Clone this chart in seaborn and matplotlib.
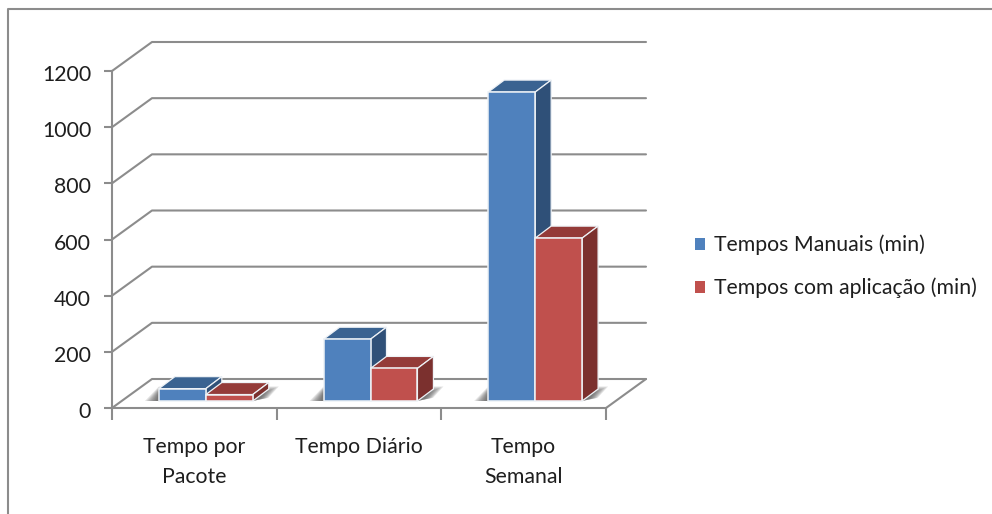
import matplotlib
matplotlib.use("Agg")
import matplotlib.pyplot as plt
import pandas as pd
import seaborn as sns
from matplotlib.lines import Line2D
from matplotlib.patches import Polygon
from matplotlib.transforms import ScaledTranslation

# Chart data
categories = ["Tempo por\nPacote", "Tempo Diário", "Tempo\nSemanal"]
manual_times = [44, 220, 1100]
app_times = [23, 116, 580]
series_names = ["Tempos Manuais (min)", "Tempos com aplicação (min)"]
y_ticks = [0, 200, 400, 600, 800, 1000, 1200]

# Colours
front_colors = ["#4F81BD", "#C0504D"]
top_colors = ["#3A6391", "#943B39"]
side_colors = ["#2F5078", "#7B302E"]
line_color = "#8C8C8C"
text_color = "#1E1E1E"

# Layout in pixels
W, H = 992, 514
LEFT, RIGHT, TOP, BOTTOM = 112, 606, 71, 408
WALL_DX, WALL_DY = 40, 29
BAR_SHIFT_X, BAR_SHIFT_Y = 11.5, 7
BAR_DX, BAR_DY = 16, 12
FONT_SIZE = 15.3

sns.set_theme(style="white")
plt.rcParams["font.family"] = ["Lato", "DejaVu Sans"]

long_form = pd.DataFrame({
    "categoria": categories * 2,
    "serie": [series_names[0]] * 3 + [series_names[1]] * 3,
    "minutos": manual_times + app_times,
})

fig = plt.figure(figsize=(W / 100, H / 100), dpi=100, facecolor="white")


def axes_rect(shift_x=0.0, shift_y=0.0):
    return [(LEFT + shift_x) / W, (H - BOTTOM + shift_y) / H,
            (RIGHT - LEFT) / W, (BOTTOM - TOP) / H]


ax = fig.add_axes(axes_rect())
bars_ax = fig.add_axes(axes_rect(BAR_SHIFT_X, BAR_SHIFT_Y))
bars_ax.patch.set_alpha(0)

# Pixel to data-unit factors shared by both axes
unit_x = 3 / (RIGHT - LEFT)
unit_y = 1200 / (BOTTOM - TOP)
wall_x, wall_y = WALL_DX * unit_x, WALL_DY * unit_y
depth_x, depth_y = BAR_DX * unit_x, BAR_DY * unit_y

# Walls and floor
ax.set_xlim(-0.5, 2.5)
ax.set_ylim(0, 1200)
ln = dict(color=line_color, lw=1.5, clip_on=False, solid_capstyle="round", zorder=1)
for v in y_ticks:
    ax.plot([-0.5, -0.5 + wall_x, 2.5 + wall_x], [v, v + wall_y, v + wall_y], **ln)
ax.plot([2.5, 2.5 + wall_x], [0, wall_y], **ln)

for name in ("top", "right"):
    ax.spines[name].set_visible(False)
for name in ("left", "bottom"):
    ax.spines[name].set_color(line_color)
    ax.spines[name].set_linewidth(1.5)

ax.set_yticks(y_ticks)
ax.set_xticks([-0.5, 0.5, 1.5, 2.5])
ax.set_xticklabels([])
ax.set_xticks([0, 1, 2], categories, minor=True)
ax.tick_params(axis="y", left=True, length=6, width=1.5, color=line_color,
               labelsize=FONT_SIZE, labelcolor=text_color, pad=9)
ax.tick_params(axis="x", which="major", bottom=True, length=8.5, width=1.5, color=line_color)
ax.tick_params(axis="x", which="minor", bottom=False, length=0,
               labelsize=FONT_SIZE, labelcolor=text_color, pad=21)
for label in ax.get_xticklabels(minor=True):
    label.set_linespacing(1.62)

# Numeric labels sit slightly low against their ticks
nudge = ScaledTranslation(0, -2 / 100, fig.dpi_scale_trans)
for label in ax.get_yticklabels():
    label.set_transform(label.get_transform() + nudge)

# Front faces of the bars
bar_width = 0.57
sns.barplot(data=long_form, x="categoria", y="minutos", hue="serie",
            order=categories, hue_order=series_names, palette=front_colors,
            width=bar_width, gap=0, dodge=True, saturation=1, ax=bars_ax,
            edgecolor="#EEF2F6", linewidth=1.1, errorbar=None)
bars_ax.set_xlim(-0.5, 2.5)
bars_ax.set_ylim(0, 1200)
bars_ax.axis("off")

handles, labels = bars_ax.get_legend_handles_labels()
bars_ax.get_legend().remove()
for handle in handles:
    handle.set_edgecolor("none")

# Soft floor shadow beneath each pair of bars, built up from nested layers
layers = 8
for center in range(len(categories)):
    x0, x1 = center - bar_width / 2, center + bar_width / 2
    for i in range(layers):
        t = i / (layers - 1)
        left_pad = (14 - 11 * t) * unit_x
        right_pad = (26 - 14 * t) * unit_x
        lift = (14.5 - 6 * t) * unit_y
        bars_ax.add_patch(Polygon(
            [(x0 - left_pad, 0), (x1, 0), (x1 + right_pad * 0.6, lift * 0.22),
             (x1 + right_pad, lift), (x0, lift)],
            closed=True, facecolor="#444444", alpha=0.14, edgecolor="none",
            zorder=0.5, clip_on=False))

# Top and side faces follow the geometry of each front face
for s, container in enumerate(bars_ax.containers):
    base_z = 2 + 2 * s
    for bar in container:
        bar.set_zorder(base_z + 1)
        bar.set_clip_on(False)
        x0, x1 = bar.get_x(), bar.get_x() + bar.get_width()
        h = bar.get_height()
        top_face = [(x0, h), (x1, h), (x1 + depth_x, h + depth_y), (x0 + depth_x, h + depth_y)]
        side_face = [(x1, 0), (x1 + depth_x, depth_y), (x1 + depth_x, h + depth_y), (x1, h)]
        for pts, col in ((top_face, top_colors[s]), (side_face, side_colors[s])):
            bars_ax.add_patch(Polygon(pts, closed=True, facecolor=col,
                                      edgecolor="#EEF2F6", linewidth=0.9,
                                      zorder=base_z, clip_on=False))

# Legend to the right of the plot
fig.legend(handles, labels, loc="center left", bbox_to_anchor=(695 / W, (H - 266.5) / H),
           frameon=False, fontsize=FONT_SIZE, labelcolor=text_color,
           handlelength=0.47, handleheight=0.47, handletextpad=0.42,
           labelspacing=1.05, borderpad=0, borderaxespad=0)

# Outer chart frame, open towards the right and bottom edges
fig.add_artist(Line2D([8 / W, 8 / W, 1], [0, (H - 9) / H, (H - 9) / H],
                      color=line_color, lw=1.5, transform=fig.transFigure))

fig.savefig("out.png", dpi=100, facecolor="white")
